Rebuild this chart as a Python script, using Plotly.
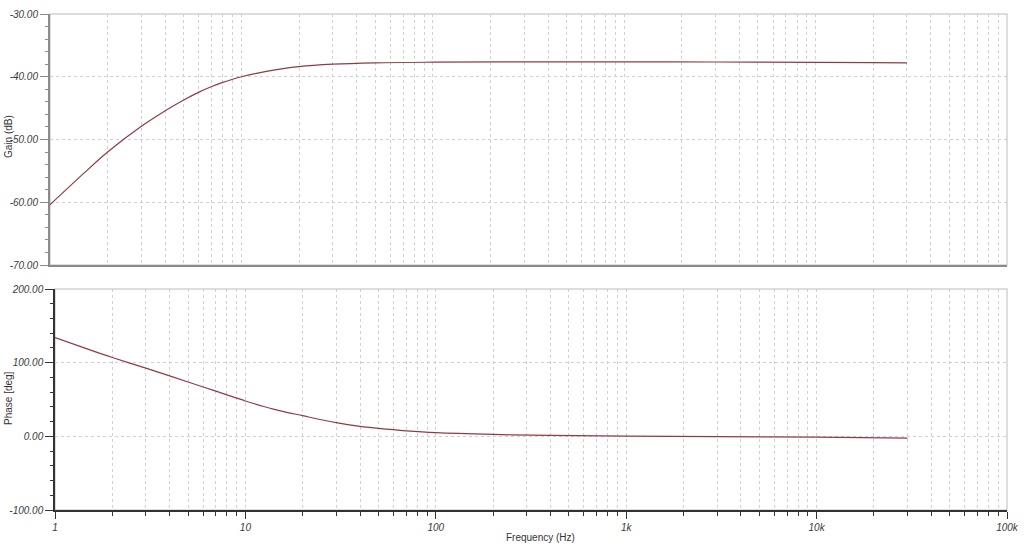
import plotly.graph_objects as go

# ---- data ----
freq_gain = [1, 1.5, 2, 3, 4, 5, 6, 7, 8, 9, 10, 12, 15, 20, 30, 50, 100, 300, 1000, 3000, 10000, 20000, 30000]
gain_db = [-60.4, -55.4, -52.0, -47.9, -45.4, -43.7, -42.45, -41.55, -40.9, -40.4, -40.0, -39.45, -38.9, -38.38,
           -38.0, -37.78, -37.68, -37.64, -37.63, -37.65, -37.7, -37.76, -37.8]

freq_phase = [1, 1.5, 2, 3, 4, 5, 6, 7, 8, 9, 10, 14, 20, 30, 40, 50, 70, 100, 200, 400, 1000, 3000, 10000, 30000]
phase_deg = [134, 118, 107, 92.5, 82, 73.8, 67, 61.3, 56.3, 51.9, 48, 37, 28, 18.5, 13.5, 10.8, 7.5,
             5.0, 2.6, 1.2, 0.2, -0.4, -1.2, -2.5]

x_major = [1, 10, 100, 1000, 10000, 100000]
x_major_text = ["1", "10", "100", "1k", "10k", "100k"]
gain_ticks = [-30, -40, -50, -60, -70]
gain_text = ["-30.00", "-40.00", "-50.00", "-60.00", "-70.00"]
phase_ticks = [200, 100, 0, -100]
phase_text = ["200.00", "100.00", "0.00", "-100.00"]

W, H = 1024, 552
LINE = "#8e3c44"
GRID = "#d0d0d0"
FONT = "Liberation Sans, Arial, sans-serif"

x_minor = [m * d for d in [1, 10, 100, 1000, 10000] for m in range(2, 10)]


def px_x(p):
    return p / W


def px_y(p):
    return 1 - p / H


top_x = [px_x(50), px_x(1007)]
top_y = [px_y(265), px_y(14)]
bot_x = [px_x(55), px_x(1007)]
bot_y = [px_y(510), px_y(289)]

fig = go.Figure()
fig.add_trace(go.Scatter(x=freq_gain, y=gain_db, mode="lines", line=dict(color=LINE, width=1.2, shape="spline"),
                         xaxis="x", yaxis="y", showlegend=False, hoverinfo="x+y"))
fig.add_trace(go.Scatter(x=freq_phase, y=phase_deg, mode="lines", line=dict(color=LINE, width=1.2, shape="spline"),
                         xaxis="x2", yaxis="y2", showlegend=False, hoverinfo="x+y"))

tickfont = dict(family=FONT, size=10, color="#3a3a3a", style="italic")
DASH = "3px,3px"

common_x = dict(type="log", range=[0, 5], tickmode="array", tickvals=x_major, ticktext=x_major_text,
                showgrid=True, gridcolor=GRID, griddash=DASH, gridwidth=1, zeroline=False,
                tickfont=tickfont, automargin=False)

fig.update_layout(
    template="none",
    width=W, height=H,
    margin=dict(l=0, r=0, t=0, b=0, autoexpand=False),
    paper_bgcolor="white", plot_bgcolor="white",
    xaxis=dict(domain=top_x, anchor="y", showticklabels=False, ticks="",
               showline=True, linecolor="#8a8a8a", linewidth=2,
               minor=dict(tickmode="array", tickvals=x_minor, ticks="", showgrid=True, gridcolor=GRID,
                          griddash=DASH, gridwidth=1),
               **common_x),
    yaxis=dict(domain=top_y, anchor="x", range=[-70, -30], tickmode="array", tickvals=gain_ticks,
               ticktext=gain_text, ticks="outside", ticklen=8, tickcolor="#8a8a8a", tickwidth=1,
               showline=True, linecolor="#8a8a8a", linewidth=2, showgrid=True, gridcolor=GRID,
               griddash=DASH, zeroline=False, tickfont=tickfont, automargin=False,
               minor=dict(dtick=2, ticks="outside", ticklen=3, tickcolor="#8a8a8a", showgrid=False)),
    xaxis2=dict(domain=bot_x, anchor="y2", ticks="outside", ticklen=7, tickcolor="#333333",
                showline=True, linecolor="#333333", linewidth=1.5,
                minor=dict(tickmode="array", tickvals=x_minor, ticks="outside", ticklen=4, tickcolor="#333333",
                           showgrid=True, gridcolor=GRID, griddash=DASH, gridwidth=1),
                **common_x),
    yaxis2=dict(domain=bot_y, anchor="x2", range=[-100, 200], tickmode="array", tickvals=phase_ticks,
                ticktext=phase_text, ticks="outside", ticklen=8, tickcolor="#333333", tickwidth=1,
                showline=True, linecolor="#333333", linewidth=1.5, showgrid=True, gridcolor=GRID,
                griddash=DASH, zeroline=False, tickfont=tickfont, automargin=False,
                minor=dict(dtick=20, ticks="outside", ticklen=3, tickcolor="#333333", showgrid=False)),
    shapes=[
        dict(type="rect", xref="x domain", yref="y domain", x0=0, x1=1, y0=0, y1=1,
             line=dict(color="#d2d2d2", width=1.5), layer="below"),
        dict(type="rect", xref="x2 domain", yref="y2 domain", x0=0, x1=1, y0=0, y1=1,
             line=dict(color="#d2d2d2", width=1.5), layer="below"),
    ],
    annotations=[
        dict(text="Gain (dB)", x=px_x(8), y=px_y(137), xref="paper", yref="paper", textangle=-90,
             xanchor="center", yanchor="middle",
             showarrow=False, font=dict(family=FONT, size=10, color="#333333")),
        dict(text="Phase [deg]", x=px_x(8), y=px_y(398), xref="paper", yref="paper", textangle=-90,
             xanchor="center", yanchor="middle",
             showarrow=False, font=dict(family=FONT, size=10, color="#333333")),
        dict(text="Frequency (Hz)", x=px_x(540), y=px_y(537), xref="paper", yref="paper",
             xanchor="center", yanchor="middle",
             showarrow=False, font=dict(family=FONT, size=10, color="#333333")),
    ],
)

fig.write_html("out.html", config={"displayModeBar": False},
               post_script="document.body.style.margin='0';")
